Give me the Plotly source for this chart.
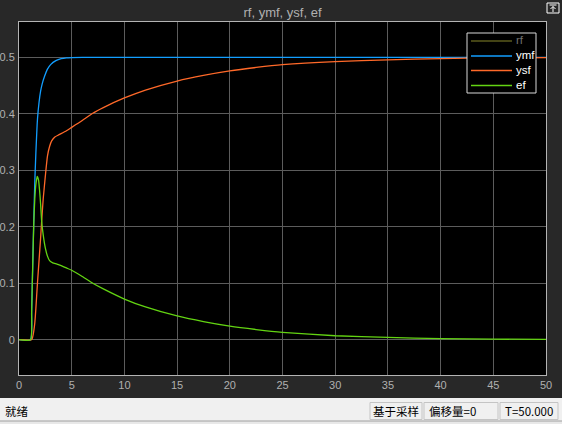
import plotly.graph_objects as go

# ---------------- data ----------------
series_names = ["rf", "ymf", "ysf", "ef"]
series_colors = ["#ffff11", "#129eff", "#ff6929", "#63d412"]

t_ymf = [0, 1.1, 1.2, 1.3, 1.4, 1.5, 1.6, 1.75, 1.9, 2.05, 2.2, 2.4, 2.7, 3.0,
         3.5, 4.0, 4.5, 5, 6, 50]
ymf = [0, 0, 0.05, 0.13, 0.21, 0.28, 0.33, 0.39, 0.42, 0.44, 0.453, 0.465,
       0.479, 0.487, 0.494, 0.4975, 0.499, 0.4995, 0.5, 0.5]

t_ysf = [0, 1.2, 1.3, 1.4, 1.5, 1.6, 1.75, 1.9, 2.05, 2.15, 2.3, 2.5, 2.7, 2.9,
         3.1, 3.4, 3.8, 4.5, 5, 6, 7, 8, 10, 12, 15, 17.5, 20, 22.5, 25, 30,
         35, 40, 45, 50]
ysf = [0, 0, 0.005, 0.015, 0.03, 0.055, 0.1, 0.14, 0.18, 0.21, 0.25, 0.29,
       0.325, 0.342, 0.352, 0.359, 0.363, 0.37, 0.376, 0.388, 0.401, 0.411,
       0.428, 0.442, 0.458, 0.468, 0.476, 0.482, 0.487, 0.4925, 0.4955,
       0.4978, 0.499, 0.4995]

t_ef = [0, 1.1, 1.2, 1.3, 1.4, 1.5, 1.6, 1.73, 1.85, 1.95, 2.05, 2.15, 2.3,
        2.5, 2.7, 2.9, 3.2, 3.6, 4.0, 4.5, 5, 6, 7, 8, 10, 12, 15, 17.5, 20,
        22.5, 25, 30, 35, 40, 45, 50]
ef = [0, 0, 0.05, 0.13, 0.205, 0.25, 0.275, 0.289, 0.283, 0.265, 0.24, 0.21,
      0.185, 0.162, 0.148, 0.14, 0.136, 0.134, 0.131, 0.127, 0.123, 0.112,
      0.1, 0.09, 0.072, 0.058, 0.042, 0.032, 0.024, 0.018, 0.013, 0.007,
      0.004, 0.002, 0.001, 0.0005]

x_ticks = [0, 5, 10, 15, 20, 25, 30, 35, 40, 45, 50]
y_ticks = [0, 0.1, 0.2, 0.3, 0.4, 0.5]
x_range = [0, 50]
y_range = [-0.0625, 0.5625]

title_text = "rf, ymf, ysf, ef"
status_texts = ["就绪", "基于采样", "偏移量=0", "T=50.000"]

# ---------------- layout helpers ----------------
W, H = 562, 424
L, R, T, B = 19, 16, 22, 49
PW, PH = W - L - R, H - T - B


def px(X):
    return (X - L) / PW


def py(Y):
    return (H - B - Y) / PH


fig = go.Figure()
for tt, vv, name, col in [(t_ymf, ymf, series_names[1], series_colors[1]),
                          (t_ysf, ysf, series_names[2], series_colors[2]),
                          (t_ef, ef, series_names[3], series_colors[3])]:
    fig.add_trace(go.Scatter(x=tt, y=vv, name=name, mode="lines",
                             line=dict(color=col, width=1.3, shape="spline",
                                       smoothing=0.5),
                             showlegend=False, hoverinfo="x+y+name"))

shapes = []
annots = []

# legend box (drawn manually to match the compact scope legend)
shapes.append(dict(type="rect", xref="paper", yref="paper",
                   x0=px(467), x1=px(536), y0=py(93), y1=py(33),
                   fillcolor="black", line=dict(color="#d8d8d8", width=1),
                   layer="above"))
leg_y = [41, 56, 70.5, 85.5]
leg_line_cols = ["#5a5a1c", series_colors[1], series_colors[2], series_colors[3]]
leg_text_cols = ["#707070", "white", "white", "white"]
for i, name in enumerate(series_names):
    shapes.append(dict(type="line", xref="paper", yref="paper",
                       x0=px(471), x1=px(512), y0=py(leg_y[i]), y1=py(leg_y[i]),
                       line=dict(color=leg_line_cols[i], width=1.3),
                       layer="above"))
    annots.append(dict(text=name, xref="paper", yref="paper",
                       x=px(514), y=py(leg_y[i] - 0.5), xanchor="left",
                       yanchor="middle", showarrow=False,
                       font=dict(family="Liberation Sans", size=11.5,
                                 color=leg_text_cols[i])))

# undock icon at top right
shapes.append(dict(type="rect", xref="paper", yref="paper",
                   x0=px(547), x1=px(559), y0=py(13), y1=py(3),
                   line=dict(color="white", width=1), fillcolor="#282828",
                   layer="above"))
shapes.append(dict(type="path", xref="paper", yref="paper",
                   path=f"M {px(553)} {py(12)} L {px(553)} {py(6.5)} "
                        f"M {px(550.5)} {py(9)} L {px(553)} {py(6.5)} L {px(555.5)} {py(9)} "
                        f"M {px(549.5)} {py(5)} L {px(556.5)} {py(5)}",
                   line=dict(color="white", width=1), layer="above"))

# status bar
shapes.append(dict(type="rect", xref="paper", yref="paper",
                   x0=px(0), x1=px(W), y0=py(421), y1=py(398),
                   fillcolor="#f0f0f0", line=dict(width=0), layer="above"))
shapes.append(dict(type="rect", xref="paper", yref="paper",
                   x0=px(0), x1=px(W), y0=py(H), y1=py(421),
                   fillcolor="#e8e8e8", line=dict(width=0), layer="above"))
shapes.append(dict(type="line", xref="paper", yref="paper",
                   x0=px(0), x1=px(W), y0=py(421), y1=py(421),
                   line=dict(color="#a0a0a0", width=1), layer="above"))
for x0, x1 in [(370, 422), (424, 498), (500, 558)]:
    shapes.append(dict(type="rect", xref="paper", yref="paper",
                       x0=px(x0), x1=px(x1), y0=py(419.5), y1=py(402.5),
                       fillcolor="#f0f0f0", line=dict(color="#c4c4c4", width=1),
                       layer="above"))
status_pos = [(3, "left"), (396, "center"), (427, "left"), (503, "left")]
for txt, (xx, anc) in zip(status_texts, status_pos):
    annots.append(dict(text=txt, xref="paper", yref="paper", x=px(xx),
                       y=py(411), xanchor=anc, yanchor="middle",
                       showarrow=False,
                       font=dict(family="Noto Sans CJK SC", size=11.5,
                                 color="black")))

axis_common = dict(showgrid=True, gridcolor="#5c5c5c", gridwidth=1,
                   zeroline=False, showline=True, mirror=True,
                   linecolor="#b4b4b4", linewidth=1, ticks="",
                   automargin=False,
                   tickfont=dict(family="Liberation Sans", size=11,
                                 color="#b0b0b0"))

fig.update_layout(
    width=W, height=H,
    margin=dict(l=L, r=R, t=T, b=B, pad=0, autoexpand=False),
    paper_bgcolor="#282828", plot_bgcolor="black",
    title=dict(text=title_text, x=px((L + W - R) / 2), xref="paper",
               xanchor="center", y=1 - 12 / H, yanchor="middle",
               font=dict(family="Liberation Sans", size=13, color="#b0b0b0")),
    xaxis=dict(range=x_range, tickvals=x_ticks, **axis_common),
    yaxis=dict(range=y_range, tickvals=y_ticks, ticklabelstandoff=1,
               **axis_common),
    showlegend=False,
    shapes=shapes, annotations=annots,
)

fig.write_html("out.html",
               config={"displayModeBar": False},
               post_script="document.body.style.margin='0';"
                           "document.body.style.overflow='hidden';")
